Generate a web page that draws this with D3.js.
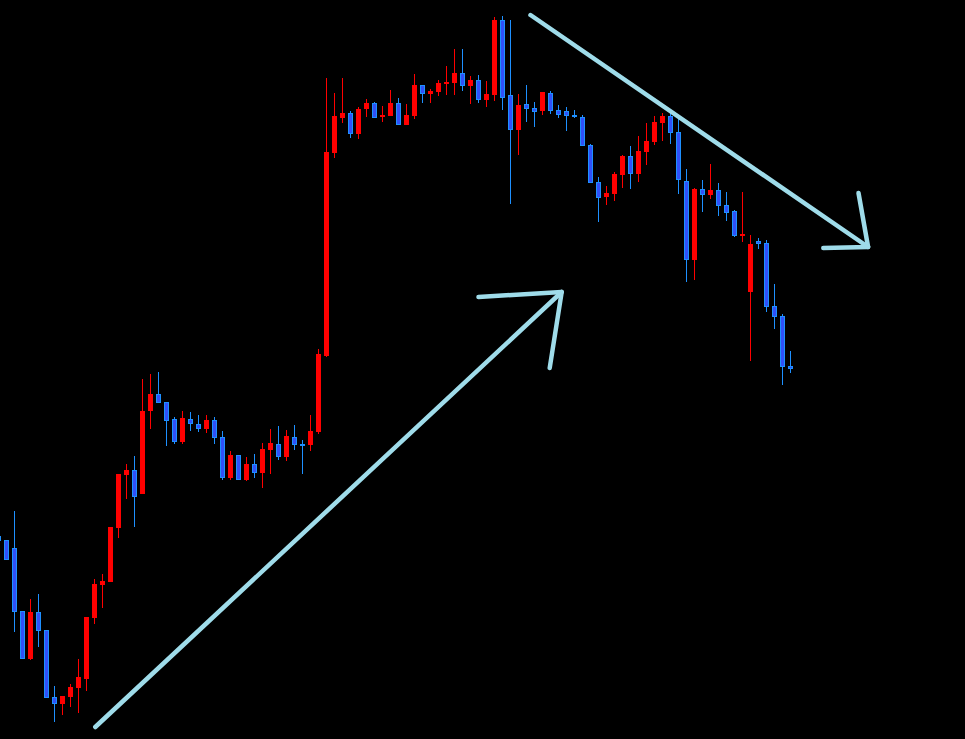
<!DOCTYPE html>
<html>
<head>
<meta charset="utf-8">
<script src="https://cdn.jsdelivr.net/npm/d3@7"></script>
<style>
  html, body { margin: 0; padding: 0; background: #000; }
  svg { display: block; }
</style>
</head>
<body>
<svg id="chart" width="965" height="739"></svg>
<script>
// Candle indices (bar number), index -1 is the partially visible bar at the left edge
const bars = d3.range(-1, 99);
const opens = [203,199,191,128,80,127,109,42,35,42,51,60,121,154,157,211,264,269,245,328,345,337,320,297,320,315,310,319,302,261,284,259,275,266,289,295,282,302,295,294,307,383,586,621,626,605,630,636,623,623,636,614,623,654,645,647,655,656,666,653,659,639,644,719,644,609,635,631,628,646,629,628,624,622,594,557,542,545,564,583,565,587,597,616,623,607,558,479,550,544,549,534,528,503,447,498,496,433,423,373];
const highs = [203,199,228,128,140,145,109,53,43,55,80,122,160,165,212,265,275,283,360,365,367,337,322,328,327,324,324,322,308,288,284,282,285,296,310,313,309,314,299,324,390,661,646,661,628,632,640,637,633,649,641,635,665,654,650,659,673,690,690,663,664,658,722,723,719,645,654,637,647,648,634,632,629,624,595,562,553,567,584,593,603,616,623,626,626,620,570,551,559,575,556,547,529,547,504,501,499,455,425,388];
const lows = [198,179,107,80,79,92,41,17,24,32,26,48,115,131,157,201,240,212,245,310,336,293,295,295,308,307,306,295,259,259,259,258,261,251,265,279,278,289,265,288,305,382,581,616,601,600,622,621,617,623,614,614,620,636,636,643,644,644,648,635,636,632,638,629,535,584,617,612,624,625,621,608,621,593,556,517,534,538,551,550,557,574,594,598,595,545,457,459,527,540,523,518,502,497,378,490,427,410,354,366];
const closes = [198,179,127,80,127,108,41,35,43,52,62,122,155,158,212,265,269,242,328,345,336,318,297,321,315,310,319,301,261,284,259,275,266,290,296,282,303,294,293,308,385,587,623,626,605,630,636,621,624,636,614,624,654,645,648,656,657,666,653,659,639,645,719,641,609,634,630,627,647,628,624,623,622,593,556,541,546,565,583,565,588,598,617,623,606,559,479,550,544,549,533,526,503,505,495,495,432,422,372,370];

// Trend arrows, in (bar, price) coordinates
const upArrowShaft = [[11.1, 12], [69.4, 447]];
const upArrowHead = [[59.0, 442], [69.4, 447], [67.9, 371]];
const downArrowShaft = [[65.5, 724], [107.7, 492]];
const downArrowHead = [[102.1, 491], [107.7, 492], [106.5, 546]];

const W = 965, H = 739;
const svg = d3.select("#chart");
svg.append("rect").attr("width", W).attr("height", H).attr("fill", "#000");

const x = d3.scaleLinear().domain([0, 98]).range([6.5, 790.5]);
const y = d3.scaleLinear().domain([0, 739]).range([739, 0]);

const data = bars.map((b, i) => ({ b, o: opens[i], h: highs[i], l: lows[i], c: closes[i] }));

const UP = "#ff0000", DOWN_FILL = "#3050f8", DOWN_EDGE = "#1e90ff";
const g = svg.append("g").attr("shape-rendering", "crispEdges");

// wicks
g.selectAll("rect.wick").data(data).join("rect")
  .attr("class", "wick")
  .attr("x", d => x(d.b) - 0.5)
  .attr("width", 1)
  .attr("y", d => y(d.h))
  .attr("height", d => Math.max(1, y(d.l) - y(d.h)))
  .attr("fill", d => d.c >= d.o ? UP : DOWN_EDGE);

// bodies
g.selectAll("rect.body").data(data).join("rect")
  .attr("class", "body")
  .each(function(d) {
    const up = d.c >= d.o;
    const top = y(Math.max(d.o, d.c)), bot = y(Math.min(d.o, d.c));
    const hgt = Math.max(2, bot - top);
    const s = d3.select(this);
    if (up) {
      s.attr("x", x(d.b) - 2.5).attr("width", 5)
       .attr("y", top).attr("height", hgt)
       .attr("fill", UP);
    } else {
      s.attr("x", x(d.b) - 2).attr("width", 4)
       .attr("y", top + 0.5).attr("height", Math.max(1, hgt - 1))
       .attr("fill", DOWN_FILL).attr("stroke", DOWN_EDGE).attr("stroke-width", 1);
    }
  });

// arrows
const line = d3.line().x(p => x(p[0])).y(p => y(p[1]));
const ARROW = "#9fdcea";
[upArrowShaft, upArrowHead, downArrowShaft, downArrowHead].forEach(pts => {
  svg.append("path")
    .attr("d", line(pts))
    .attr("fill", "none")
    .attr("stroke", ARROW)
    .attr("stroke-width", 4.5)
    .attr("stroke-linecap", "round")
    .attr("stroke-linejoin", "round");
});
</script>
</body>
</html>
